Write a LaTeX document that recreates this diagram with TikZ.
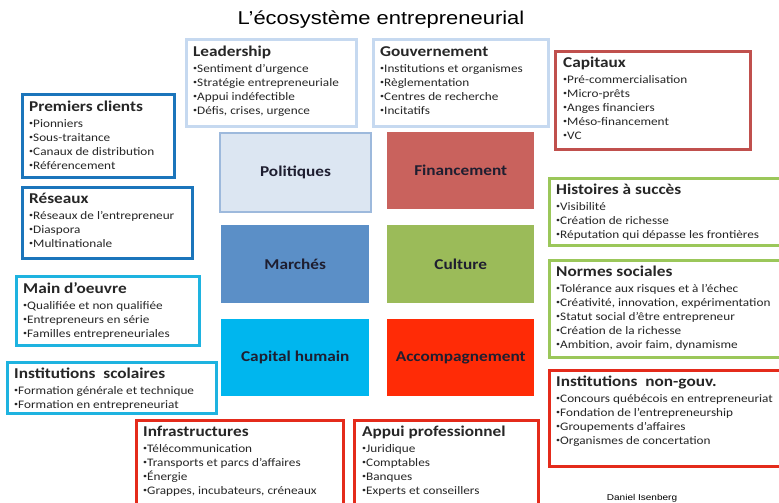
\documentclass[tikz,border=0pt]{standalone}
\usepackage{fontspec}
\setmainfont[FakeStretch=1.15]{Carlito}
\newfontfamily\titlefont[FakeStretch=1.18]{Liberation Sans}
\usepackage{tikz}
\usetikzlibrary{positioning}
\definecolor{paleblue}{HTML}{C6D9F0}
\definecolor{capred}{HTML}{C0504D}
\definecolor{midblue}{HTML}{1B75BB}
\definecolor{skyblue}{HTML}{1EB3E0}
\definecolor{leafgreen}{HTML}{9BC75A}
\definecolor{brightred}{HTML}{E42B1B}
\definecolor{pillartext}{HTML}{1E1E30}
\definecolor{polfill}{HTML}{DCE6F2}
\definecolor{poledge}{HTML}{9DB9DC}
\definecolor{finfill}{HTML}{C9625D}
\definecolor{marfill}{HTML}{5B8FC7}
\definecolor{culfill}{HTML}{9BBB59}
\definecolor{humfill}{HTML}{00B6EE}
\definecolor{accfill}{HTML}{FF2B06}
\def\itemfont{\fontsize{11.5}{14}\selectfont}
\def\pillarfont{\fontsize{15}{18}\selectfont\bfseries}
\def\hd#1{{\fontsize{15}{14}\selectfont\bfseries #1}}
\def\bu{\raisebox{1.8pt}{\fontsize{7}{7}\selectfont•}}
\tikzstyle{frame}=[draw,rectangle,fill=white,line width=3pt,inner sep=0pt,anchor=north west]
\tikzstyle{txt}=[anchor=north west,inner sep=0pt,align=left,font=\itemfont,text=black!85]
\tikzstyle{pillar}=[rectangle,inner sep=0pt,minimum width=147pt,minimum height=77pt,font=\pillarfont,text=pillartext,anchor=north west]
\begin{document}
\begin{tikzpicture}[x=1pt,y=-1pt]
      % \draw[help lines] (0,0) grid (779,503);
      \useasboundingbox (0,0) rectangle (779,503);
      \clip (0,0) rectangle (779,503);
      \node [font=\titlefont\fontsize{18.6}{22}\selectfont, anchor=base] (title) at (381,25) {L’écosystème entrepreneurial};

      % the six pillars
      \node [pillar, fill=polfill, draw=poledge, line width=2pt, minimum width=151pt, minimum height=79pt] (pol) at (219,132) {Politiques};
      \node [pillar, fill=finfill] (fin) at (387,132) {Financement};
      \node [pillar, fill=marfill, minimum width=148pt, minimum height=78pt] (mar) at (221,225) {Marchés};
      \node [pillar, fill=culfill, minimum height=78pt] (cul) at (387,225) {Culture};
      \node [pillar, fill=humfill, minimum width=148pt] (hum) at (221,319) {Capital humain};
      \node [pillar, fill=accfill] (acc) at (387,319) {Accompagnement};

      % boxes round them
      \node [frame, draw=paleblue, minimum width=170pt, minimum height=87pt] (lead) at (185,38) {};
      \node [txt] (leadtxt) at ([shift={(8,8)}]lead.north west) {\hd{Leadership}\\[2pt]
        \bu Sentiment d’urgence\\ \bu Stratégie entrepreneuriale\\
        \bu Appui indéfectible\\ \bu Défis, crises, urgence};

      \node [frame, draw=paleblue, minimum width=175pt, minimum height=87pt] (gov) at (372,38) {};
      \node [txt] (govtxt) at ([shift={(8,8)}]gov.north west) {\hd{Gouvernement}\\[2pt]
        \bu Institutions et organismes\\ \bu Règlementation\\
        \bu Centres de recherche\\ \bu Incitatifs};

      \node [frame, draw=capred, minimum width=195pt, minimum height=98pt] (cap) at (554,50) {};
      \node [txt] (captxt) at ([shift={(9,7)}]cap.north west) {\hd{Capitaux}\\[2pt]
        \bu Pré-commercialisation\\ \bu Micro-prêts\\ \bu Anges financiers\\
        \bu Méso-financement\\ \bu VC};

      \node [frame, draw=midblue, minimum width=152pt, minimum height=83pt] (pc) at (21,93) {};
      \node [txt] (pctxt) at ([shift={(8,8)}]pc.north west) {\hd{Premiers clients}\\[2pt]
        \bu Pionniers\\ \bu Sous-traitance\\ \bu Canaux de distribution\\
        \bu Référencement};

      \node [frame, draw=midblue, minimum width=170pt, minimum height=71pt] (res) at (21,186) {};
      \node [txt] (restxt) at ([shift={(8,7)}]res.north west) {\hd{Réseaux}\\[2pt]
        \bu Réseaux de l’entrepreneur\\ \bu Diaspora\\ \bu Multinationale};

      \node [frame, draw=skyblue, minimum width=183pt, minimum height=69pt] (mo) at (15,275) {};
      \node [txt] (motxt) at ([shift={(8,7)}]mo.north west) {\hd{Main d’oeuvre}\\[2pt]
        \bu Qualifiée et non qualifiée\\ \bu Entrepreneurs en série\\
        \bu Familles entrepreneuriales};

      \node [frame, draw=skyblue, minimum width=209pt, minimum height=51pt] (sco) at (6,361) {};
      \node [txt] (scotxt) at ([shift={(8,7)}]sco.north west) {\hd{Institutions\ \ scolaires}\\[2pt]
        \bu Formation générale et technique\\ \bu Formation en entrepreneuriat};

      \node [frame, draw=brightred, minimum width=207pt, minimum height=100pt] (infra) at (135,419) {};
      \node [txt] (infratxt) at ([shift={(8,7)}]infra.north west) {\hd{Infrastructures}\\[2pt]
        \bu Télécommunication\\ \bu Transports et parcs d’affaires\\
        \bu Énergie\\ \bu Grappes, incubateurs, créneaux};

      \node [frame, draw=brightred, minimum width=184pt, minimum height=100pt] (appui) at (353,419) {};
      \node [txt] (appuitxt) at ([shift={(9,7)}]appui.north west) {\hd{Appui professionnel}\\[2pt]
        \bu Juridique\\ \bu Comptables\\ \bu Banques\\ \bu Experts et conseillers};

      \node [frame, draw=leafgreen, minimum width=250pt, minimum height=67pt] (hist) at (548,177) {};
      \node [txt] (histtxt) at ([shift={(8,7)}]hist.north west) {\hd{Histoires à succès}\\[2pt]
        \bu Visibilité\\ \bu Création de richesse\\
        \bu Réputation qui dépasse les frontières};

      \node [frame, draw=leafgreen, minimum width=250pt, minimum height=97pt] (norm) at (548,259) {};
      \node [txt] (normtxt) at ([shift={(8,7)}]norm.north west) {\hd{Normes sociales}\\[2pt]
        \bu Tolérance aux risques et à l’échec\\
        \bu Créativité, innovation, expérimentation\\
        \bu Statut social d’être entrepreneur\\ \bu Création de la richesse\\
        \bu Ambition, avoir faim, dynamisme};

      \node [frame, draw=brightred, minimum width=250pt, minimum height=96pt] (ngo) at (548,369) {};
      \node [txt] (ngotxt) at ([shift={(8,7)}]ngo.north west) {\hd{Institutions\ \ non-gouv.}\\[2pt]
        \bu Concours québécois en entrepreneuriat\\
        \bu Fondation de l’entrepreneurship\\ \bu Groupements d’affaires\\
        \bu Organismes de concertation};

      \node [font=\titlefont\fontsize{8.5}{10}\selectfont, anchor=base] (src) at (642,500) {Daniel Isenberg};
\end{tikzpicture}
\end{document}
